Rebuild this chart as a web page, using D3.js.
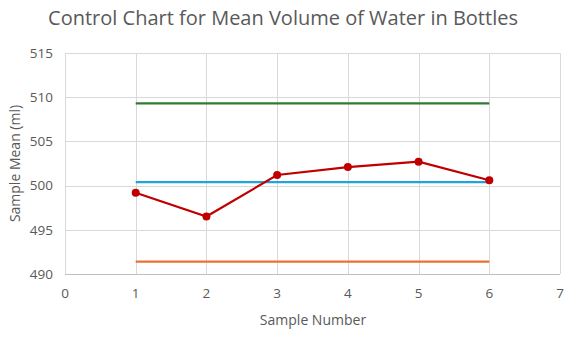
<!DOCTYPE html>
<html lang="en">
<head>
<meta charset="UTF-8" />
<script src="https://d3js.org/d3.v7.min.js"></script>
<title>Control Chart</title>
<style>
  body { margin: 0; background: #fff; }
  text { font-family: "Open Sans", "Noto Sans", sans-serif; fill: #595959; }
  .grid line { stroke: #d9d9d9; stroke-width: 1; }
</style>
</head>
<body>
<script>
// chart data
var samples = [1, 2, 3, 4, 5, 6];
var sampleMeans = [499.2, 496.5, 501.2, 502.1, 502.7, 500.6];
var centerLine = [500.4, 500.4, 500.4, 500.4, 500.4, 500.4];
var upperLimit = [509.3, 509.3, 509.3, 509.3, 509.3, 509.3];
var lowerLimit = [491.4, 491.4, 491.4, 491.4, 491.4, 491.4];
var xTicks = [0, 1, 2, 3, 4, 5, 6, 7];
var yTicks = [490, 495, 500, 505, 510, 515];

var width = 577, height = 338;
var plotLeft = 65, plotRight = 560, plotTop = 53, plotBottom = 274;

var svg = d3.select("body").append("svg")
  .attr("width", width).attr("height", height);

var x = d3.scaleLinear().domain([0, 7]).range([plotLeft, plotRight]);
var y = d3.scaleLinear().domain([490, 515]).range([plotBottom, plotTop]);

// gridlines
svg.append("g").attr("class", "grid")
  .selectAll("line").data(yTicks).enter().append("line")
  .attr("x1", plotLeft).attr("x2", plotRight)
  .attr("y1", function(d){ return Math.round(y(d)) + 0.5; })
  .attr("y2", function(d){ return Math.round(y(d)) + 0.5; });
svg.append("g").attr("class", "grid")
  .selectAll("line").data(xTicks).enter().append("line")
  .attr("y1", plotTop).attr("y2", plotBottom)
  .attr("x1", function(d){ return Math.round(x(d)) + 0.5; })
  .attr("x2", function(d){ return Math.round(x(d)) + 0.5; });

// axis line at bottom
svg.append("line").attr("x1", plotLeft).attr("x2", plotRight)
  .attr("y1", plotBottom + 0.5).attr("y2", plotBottom + 0.5)
  .attr("stroke", "#bfbfbf");

// tick labels
svg.append("g").selectAll("text").data(yTicks).enter().append("text")
  .attr("x", plotLeft - 12).attr("y", function(d){ return y(d); })
  .attr("dy", "0.35em").attr("text-anchor", "end")
  .style("font-size", "13.5px").text(function(d){ return d; });
svg.append("g").selectAll("text").data(xTicks).enter().append("text")
  .attr("x", function(d){ return x(d); }).attr("y", plotBottom + 24)
  .attr("text-anchor", "middle")
  .style("font-size", "13.5px").text(function(d){ return d; });

// lines
var line = d3.line()
  .x(function(d){ return x(d[0]); })
  .y(function(d){ return y(d[1]); });

function addLine(vals, color) {
  svg.append("path")
    .datum(d3.zip(samples, vals))
    .attr("d", line)
    .attr("fill", "none")
    .attr("stroke", color)
    .attr("stroke-width", 2.2);
}
addLine(upperLimit, "#2f7a30");
addLine(centerLine, "#1ea6dc");
addLine(lowerLimit, "#e97132");
addLine(sampleMeans, "#c00000");

svg.append("g").selectAll("circle").data(d3.zip(samples, sampleMeans)).enter()
  .append("circle")
  .attr("cx", function(d){ return x(d[0]); })
  .attr("cy", function(d){ return y(d[1]); })
  .attr("r", 4)
  .attr("fill", "#c00000");

// titles
svg.append("text").attr("x", 283).attr("y", 25)
  .attr("text-anchor", "middle").style("font-size", "20px")
  .text("Control Chart for Mean Volume of Water in Bottles");
svg.append("text").attr("x", 313).attr("y", 325)
  .attr("text-anchor", "middle").style("font-size", "14px")
  .text("Sample Number");
svg.append("text")
  .attr("transform", "translate(20," + ((plotTop + plotBottom) / 2) + ") rotate(-90)")
  .attr("text-anchor", "middle").style("font-size", "14px")
  .text("Sample Mean (ml)");
</script>
</body>
</html>
